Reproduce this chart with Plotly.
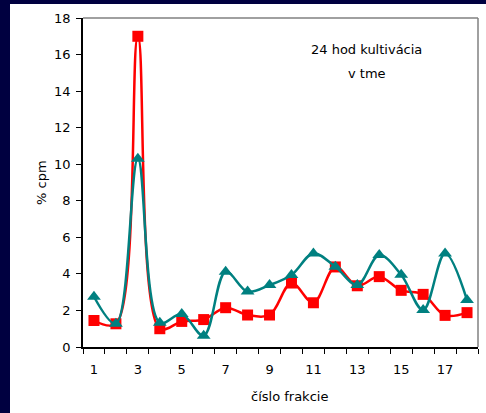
import plotly.graph_objects as go

fractions = list(range(1, 19))
red_values = [1.45, 1.27, 17.0, 1.0, 1.4, 1.5, 2.15, 1.75, 1.75, 3.5, 2.42, 4.38,
              3.35, 3.85, 3.1, 2.88, 1.73, 1.88]
teal_values = [2.75, 1.27, 10.3, 1.33, 1.8, 0.62, 4.12, 3.03, 3.39, 3.94, 5.12, 4.39,
               3.39, 5.03, 3.95, 2.02, 5.12, 2.57]
x_tick_vals = [1, 3, 5, 7, 9, 11, 13, 15, 17]
x_tick_text = ["1", "3", "5", "7", "9", "11", "13", "15", "17"]
y_tick_vals = [0, 2, 4, 6, 8, 10, 12, 14, 16, 18]

W, H = 486, 413
ML, MR, MT, MB = 83, 8, 18, 66
pw, ph = W - ML - MR, H - MT - MB
NAVY = "#000040"
FONT = "Liberation Sans, Arial, sans-serif"
WIDE = "DejaVu Sans, Verdana, sans-serif"

fig = go.Figure()
fig.add_trace(go.Scatter(
    x=fractions, y=red_values, mode="lines+markers",
    line=dict(color="#FF0000", width=2.5, shape="spline", smoothing=1.0),
    marker=dict(symbol="square", size=11, color="#FF0000"),
    showlegend=False, cliponaxis=False))
fig.add_trace(go.Scatter(
    x=fractions, y=teal_values, mode="lines+markers",
    line=dict(color="#008080", width=2.5, shape="spline", smoothing=1.0),
    marker=dict(symbol="triangle-up", size=12, color="#008080"),
    showlegend=False, cliponaxis=False))

def px_x(p):
    return (p - ML) / pw

def px_y(p):
    return (H - MB - p) / ph

shapes = [
    dict(type="rect", xref="paper", yref="paper", x0=px_x(-5), x1=px_x(10),
         y0=px_y(H + 5), y1=px_y(-5), fillcolor=NAVY, line=dict(width=0), layer="below"),
    dict(type="rect", xref="paper", yref="paper", x0=px_x(-5), x1=px_x(W + 5),
         y0=px_y(4), y1=px_y(-5), fillcolor=NAVY, line=dict(width=0), layer="below"),
    dict(type="line", xref="paper", yref="paper", x0=0, x1=1, y0=1, y1=1,
         line=dict(color="#808080", width=1.5)),
    dict(type="line", xref="paper", yref="paper", x0=1, x1=1, y0=0, y1=1,
         line=dict(color="#808080", width=1.5)),
]

def label(text, x, y, angle=0):
    return dict(text=text, xref="paper", yref="paper", x=px_x(x), y=px_y(y),
                xanchor="center", yanchor="middle", textangle=angle,
                showarrow=False, font=dict(family=WIDE, size=13))

fig.update_layout(
    width=W, height=H,
    margin=dict(l=ML, r=MR, t=MT, b=MB, autoexpand=False),
    paper_bgcolor="white", plot_bgcolor="white",
    font=dict(family=FONT, size=13, color="black"),
    shapes=shapes,
    annotations=[
        label("24 hod kultivácia", 366, 49),
        label("v tme", 367, 73),
        label("číslo frakcie", 289, 396),
        label("% cpm", 41, 183, -90),
    ],
    xaxis=dict(
        range=[0.5, 18.5], tickvals=x_tick_vals, ticktext=x_tick_text,
        ticks="outside", ticklen=0, ticklabelstandoff=10, automargin=False,
        minor=dict(ticks="outside", tick0=0.5, dtick=1, ticklen=5, tickcolor="black"),
        showgrid=False, zeroline=False, showline=True, linecolor="black", linewidth=1.5,
        tickfont=dict(family=WIDE, size=13),
    ),
    yaxis=dict(
        range=[0, 18], tickvals=y_tick_vals, automargin=False,
        ticks="outside", ticklen=5, tickcolor="black", ticklabelstandoff=3,
        showgrid=False, zeroline=False, showline=True, linecolor="black", linewidth=1.5,
        tickfont=dict(family=WIDE, size=13),
    ),
)

fig.write_html("out.html", config={"displayModeBar": False},
               post_script="document.body.style.margin='0';"
                           "document.body.style.background='white';"
                           "document.body.style.overflow='hidden';"
                           "document.documentElement.style.overflow='hidden';")
